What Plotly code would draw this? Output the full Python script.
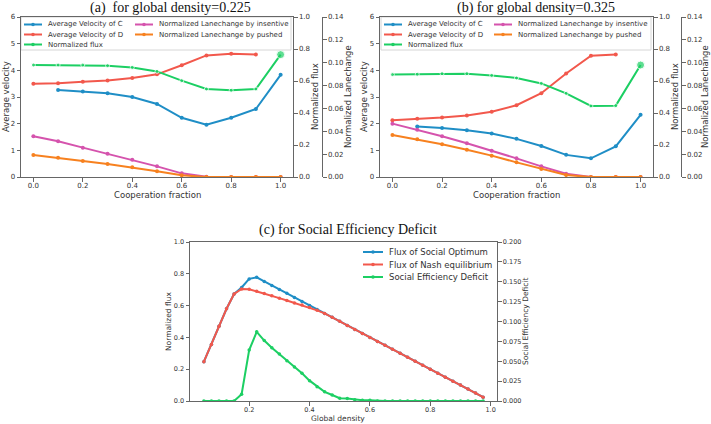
import plotly.graph_objects as go

W, H = 711, 424

# ---- data: panels (a) and (b), cooperation fraction sweep ----
coop = [0.0, 0.1, 0.2, 0.3, 0.4, 0.5, 0.6, 0.7, 0.8, 0.9, 1.0]

a_vel_c = [None, 3.26, 3.21, 3.14, 3.00, 2.74, 2.22, 1.96, 2.22, 2.55, 3.83]
a_vel_d = [3.50, 3.52, 3.57, 3.62, 3.71, 3.85, 4.19, 4.56, 4.62, 4.59, None]
a_flux = [0.700, 0.700, 0.700, 0.696, 0.685, 0.660, 0.602, 0.550, 0.542, 0.550, 0.765]
a_lc_ins = [0.0356, 0.0312, 0.0257, 0.0204, 0.0152, 0.0093, 0.0032, 0.0003, 0.0, 0.0, 0.0]
a_lc_push = [0.0193, 0.0169, 0.0140, 0.0114, 0.0085, 0.0050, 0.0015, 0.0, 0.0, 0.0, 0.0]

b_vel_c = [None, 1.89, 1.84, 1.75, 1.63, 1.43, 1.16, 0.83, 0.70, 1.15, 2.33]
b_vel_d = [2.13, 2.18, 2.23, 2.31, 2.45, 2.69, 3.14, 3.88, 4.55, 4.59, None]
b_flux = [0.640, 0.642, 0.646, 0.646, 0.635, 0.619, 0.585, 0.523, 0.444, 0.446, 0.700]
b_lc_ins = [0.0467, 0.0414, 0.0356, 0.0295, 0.0230, 0.0163, 0.0093, 0.0029, 0.0, 0.0, 0.0]
b_lc_push = [0.0368, 0.0330, 0.0286, 0.0239, 0.0187, 0.0128, 0.0070, 0.0017, 0.0, 0.0, 0.0]

# ---- data: panel (c), global density sweep ----
density = [0.05, 0.075, 0.1, 0.125, 0.15, 0.175, 0.2, 0.225, 0.25, 0.275,
           0.3, 0.325, 0.35, 0.375, 0.4, 0.425, 0.45, 0.475, 0.5, 0.525,
           0.55, 0.575, 0.6, 0.625, 0.65, 0.675, 0.7, 0.725, 0.75, 0.775,
           0.8, 0.825, 0.85, 0.875, 0.9, 0.925, 0.95, 0.975]
c_optimum = [0.247, 0.355, 0.470, 0.580, 0.673, 0.714, 0.768, 0.778, 0.752, 0.727,
             0.702, 0.677, 0.651, 0.626, 0.601, 0.576, 0.551, 0.526, 0.501, 0.475,
             0.450, 0.425, 0.400, 0.375, 0.350, 0.325, 0.300, 0.275, 0.250, 0.225,
             0.200, 0.175, 0.150, 0.125, 0.100, 0.075, 0.050, 0.024]
c_nash = [0.247, 0.355, 0.470, 0.580, 0.673, 0.705, 0.703, 0.690, 0.676, 0.662,
          0.647, 0.632, 0.617, 0.603, 0.588, 0.570, 0.551, 0.526, 0.501, 0.475,
          0.450, 0.425, 0.400, 0.375, 0.350, 0.325, 0.300, 0.275, 0.250, 0.225,
          0.200, 0.175, 0.150, 0.125, 0.100, 0.075, 0.050, 0.024]
c_deficit = [0.0, 0.0, 0.0, 0.0, 0.0, 0.0085, 0.064, 0.087, 0.076, 0.067,
             0.059, 0.0507, 0.0428, 0.0348, 0.0256, 0.018, 0.0115, 0.0075, 0.0035, 0.003,
             0.0017, 0.001, 0.0008, 0.0, 0.0, 0.0, 0.0, 0.0, 0.0, 0.0,
             0.0, 0.0, 0.0, 0.0, 0.0, 0.0, 0.0, 0.0]

# tick values
vel_ticks = [0, 1, 2, 3, 4, 5, 6]
flux_ticks = [0.0, 0.2, 0.4, 0.6, 0.8, 1.0]
lc_ticks = [0.0, 0.02, 0.04, 0.06, 0.08, 0.10, 0.12, 0.14]
coop_ticks = [0.0, 0.2, 0.4, 0.6, 0.8, 1.0]
dens_ticks = [0.2, 0.4, 0.6, 0.8, 1.0]
sed_ticks = [0.0, 0.025, 0.05, 0.075, 0.1, 0.125, 0.15, 0.175, 0.2]

BLUE = "#1f8ec6"
RED = "#f2584c"
GREEN = "#1ccf63"
MAGENTA = "#d553ad"
ORANGE = "#f7811f"
AXC = "#666666"
TXT = "#333333"
SANS = "DejaVu Sans"
SERIF = "Liberation Serif"


def px(x):
    return x / W


def py(y):
    return 1 - y / H


def line_trace(x, y, color, xa, ya, size=4):
    return go.Scatter(
        x=x, y=y, mode="lines+markers", xaxis=xa, yaxis=ya, showlegend=False,
        line=dict(color=color, width=2),
        marker=dict(color=color, size=size, symbol="circle"),
        connectgaps=False, hoverinfo="x+y",
    )


def axis_style(tickvals, fmt, fsize, standoff=0):
    return dict(
        tickvals=tickvals, tickformat=fmt, ticks="outside", ticklen=3.5,
        tickwidth=1, tickcolor=AXC, showline=True, linecolor=AXC, linewidth=1,
        showgrid=False, zeroline=False, automargin=False,
        ticklabelstandoff=standoff,
        tickfont=dict(family=SANS, size=fsize, color=TXT),
    )


fig = go.Figure()

# panel (a)
flux_sizes = [4] * 10 + [8]
fig.add_trace(line_trace(coop, a_vel_c, BLUE, "x", "y"))
fig.add_trace(line_trace(coop, a_vel_d, RED, "x", "y"))
fig.add_trace(line_trace(coop, a_flux, GREEN, "x", "y2", flux_sizes))
fig.add_trace(line_trace(coop, a_lc_ins, MAGENTA, "x", "y3"))
fig.add_trace(line_trace(coop, a_lc_push, ORANGE, "x", "y3"))

# panel (b)
fig.add_trace(line_trace(coop, b_vel_c, BLUE, "x2", "y4"))
fig.add_trace(line_trace(coop, b_vel_d, RED, "x2", "y4"))
fig.add_trace(line_trace(coop, b_flux, GREEN, "x2", "y5", flux_sizes))
fig.add_trace(line_trace(coop, b_lc_ins, MAGENTA, "x2", "y6"))
fig.add_trace(line_trace(coop, b_lc_push, ORANGE, "x2", "y6"))

# panel (c)
fig.add_trace(line_trace(density, c_optimum, BLUE, "x3", "y7", 3.5))
fig.add_trace(line_trace(density, c_nash, RED, "x3", "y7", 3.5))
fig.add_trace(line_trace(density, c_deficit, GREEN, "x3", "y8", 3.5))

top_dom = [py(177), py(17)]
bot_dom = [py(401), py(242)]

layout = dict(
    width=W, height=H, template="none",
    margin=dict(l=0, r=0, t=0, b=0),
    paper_bgcolor="white", plot_bgcolor="white",
    showlegend=False,
    xaxis=dict(axis_style(coop_ticks, ".1f", 7, -2),
               domain=[px(21), px(293)], range=[-0.05, 1.05], anchor="y", mirror=True),
    yaxis=dict(axis_style(vel_ticks, "d", 7),
               domain=top_dom, range=[0, 6], anchor="x"),
    yaxis2=dict(axis_style(flux_ticks, ".1f", 7),
                range=[0, 1], overlaying="y", side="right", anchor="x"),
    yaxis3=dict(axis_style(lc_ticks, ".2f", 7),
                range=[0, 0.14], overlaying="y", side="right", anchor="free",
                position=px(322)),
    xaxis2=dict(axis_style(coop_ticks, ".1f", 7, -2),
                domain=[px(380), px(653)], range=[-0.05, 1.05], anchor="y4", mirror=True),
    yaxis4=dict(axis_style(vel_ticks, "d", 7),
                domain=top_dom, range=[0, 6], anchor="x2"),
    yaxis5=dict(axis_style(flux_ticks, ".1f", 7),
                range=[0, 1], overlaying="y4", side="right", anchor="x2"),
    yaxis6=dict(axis_style(lc_ticks, ".2f", 7),
                range=[0, 0.14], overlaying="y4", side="right", anchor="free",
                position=px(681)),
    xaxis3=dict(axis_style(dens_ticks, ".1f", 6.5, -1),
                domain=[px(190), px(497)], range=[0.004, 1.021], anchor="y7", mirror=True),
    yaxis7=dict(axis_style(flux_ticks, ".1f", 6.5),
                domain=bot_dom, range=[0, 1], anchor="x3"),
    yaxis8=dict(axis_style(sed_ticks, ".3f", 6.5),
                range=[0, 0.2], overlaying="y7", side="right", anchor="x3"),
)
fig.update_layout(**layout)

shapes = []
annotations = []


def add_text(text, x, y, size, angle=0, family=SANS, color=TXT):
    annotations.append(dict(text=text, xref="paper", yref="paper", x=px(x), y=py(y),
                            xanchor="center", yanchor="middle", showarrow=False,
                            textangle=angle, font=dict(family=family, size=size, color=color)))


def add_legend(entries, x0, y0, dy, length, fsize):
    for i, (label, color) in enumerate(entries):
        y = y0 + i * dy
        shapes.append(dict(type="line", xref="paper", yref="paper",
                           x0=px(x0), x1=px(x0 + length), y0=py(y), y1=py(y),
                           line=dict(color=color, width=2)))
        cx = x0 + length / 2
        shapes.append(dict(type="circle", xref="paper", yref="paper",
                           x0=px(cx - 1.8), x1=px(cx + 1.8), y0=py(y + 1.8), y1=py(y - 1.8),
                           fillcolor=color, line=dict(color=color, width=0)))
        annotations.append(dict(text=label, xref="paper", yref="paper",
                                x=px(x0 + length + 4), y=py(y), xanchor="left",
                                yanchor="middle", showarrow=False,
                                font=dict(family=SANS, size=fsize, color=TXT)))


def add_frame(x0, y0, x1, y1):
    shapes.append(dict(type="rect", xref="paper", yref="paper", layer="below",
                       x0=px(x0), x1=px(x1), y0=py(y1), y1=py(y0),
                       line=dict(color="#d6d6d6", width=1), fillcolor="rgba(255,255,255,0.8)"))


col1 = [("Average Velocity of C", BLUE), ("Average Velocity of D", RED),
        ("Normalized flux", GREEN)]
col2 = [("Normalized Lanechange by insentive", MAGENTA),
        ("Normalized Lanechange by pushed", ORANGE)]

add_frame(21, 17, 291, 50)
add_legend(col1, 24, 24.5, 10, 18, 7)
add_legend(col2, 135, 24.5, 10, 18, 7)

add_frame(381, 17, 651, 50)
add_legend(col1, 384, 24.5, 10, 18, 7)
add_legend(col2, 494, 24.5, 10, 18, 7)

add_legend([("Flux of Social Optimum", BLUE), ("Flux of Nash equilibrium", RED),
            ("Social Efficiency Deficit", GREEN)], 363, 252, 12.5, 20, 8.5)

# panel titles
add_text("(a)  for global density=0.225", 170, 8, 14, family=SERIF, color="#111111")
add_text("(b) for global density=0.325", 536, 8, 14, family=SERIF, color="#111111")
add_text("(c) for Social Efficiency Deficit", 348, 230, 14, family=SERIF, color="#111111")

# axis titles
add_text("Average velocity", 6, 97, 8.5, -90)
add_text("Normalized flux", 315, 97, 8.5, -90)
add_text("Normalized Lanechange", 348, 97, 8.5, -90)
add_text("Cooperation fraction", 157, 195, 8.5)
add_text("Average velocity", 364, 97, 8.5, -90)
add_text("Normalized flux", 675, 97, 8.5, -90)
add_text("Normalized Lanechange", 705, 97, 8.5, -90)
add_text("Cooperation fraction", 516, 195, 8.5)
add_text("Normalized flux", 168, 322, 7.5, -90)
add_text("Social Efficiency Deficit", 525, 322, 7.5, -90)
add_text("Global density", 338, 418, 7.5)

fig.update_layout(shapes=shapes, annotations=annotations)

fig.write_html(
    "out.html",
    config={"displayModeBar": False},
    post_script="document.body.style.margin='0';document.body.style.overflow='hidden';",
)
